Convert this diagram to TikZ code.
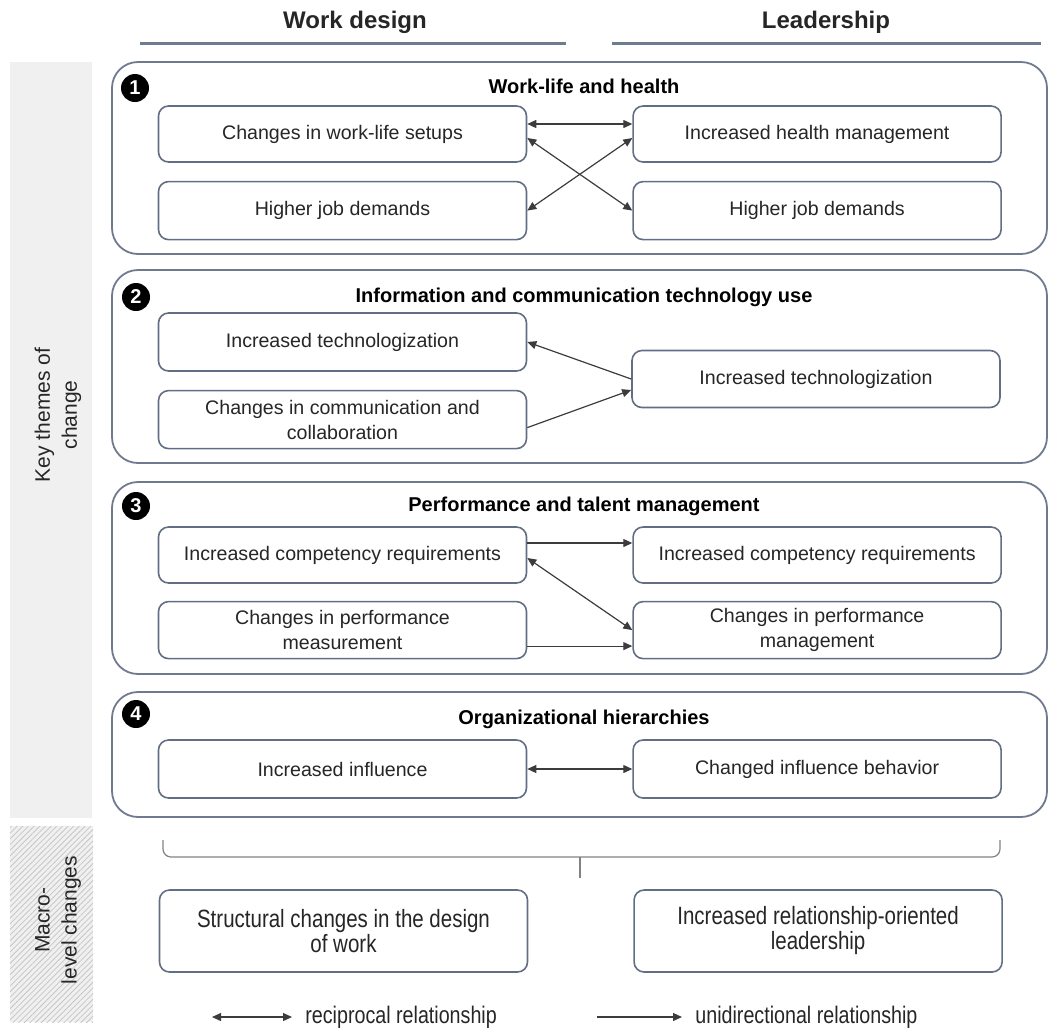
\documentclass[tikz,border=0pt]{standalone}
\usepackage{fontspec}
\setmainfont{Liberation Sans}
\newfontfamily\narrowsans[FakeStretch=0.82]{Liberation Sans}
\usetikzlibrary{positioning, arrows.meta, calc, patterns.meta}
\definecolor{boxline}{RGB}{98, 110, 132}
\definecolor{themeline}{RGB}{112, 122, 142}
\definecolor{headline}{RGB}{110, 124, 145}
\definecolor{linkgrey}{RGB}{60, 60, 60}
\definecolor{textgrey}{RGB}{38, 38, 38}
\definecolor{sidegrey}{RGB}{240, 240, 240}
\definecolor{bracegrey}{RGB}{130, 130, 130}

\begin{document}
\begin{tikzpicture}[x=0.5pt, y=-0.5pt,
    itembox/.style={draw=boxline, line width=0.8pt, rounded corners=5pt, fill=white, align=center,
      text=textgrey, font=\fontsize{9.8}{12.5}\selectfont, minimum width=184pt, inner sep=0pt},
    macrobox/.style={itembox, font=\narrowsans\fontsize{12.5}{12.5}\selectfont, minimum height=41pt},
    themebox/.style={draw=themeline, line width=0.9pt, rounded corners=13pt},
    themetitle/.style={font=\bfseries\fontsize{10}{12}\selectfont, text=black},
    badge/.style={circle, fill=black, text=white, font=\bfseries\fontsize{10}{10}\selectfont, inner sep=0pt, minimum size=14pt},
    colhead/.style={font=\bfseries\fontsize{12}{14}\selectfont, text=textgrey},
    sidelabel/.style={rotate=90, align=center, text=textgrey, font=\fontsize{10.5}{13.5}\selectfont},
    legendtext/.style={anchor=west, inner sep=0pt, text=textgrey, font=\narrowsans\fontsize{12}{14}\selectfont},
    link/.style={draw=linkgrey, line width=0.6pt},
    uni/.style={link, -{Triangle[length=4.5pt, width=4pt]}},
    both/.style={link, {Triangle[length=4.5pt, width=4pt]}-{Triangle[length=4.5pt, width=4pt]}}]
  \useasboundingbox (0,0) rectangle (1049,1030);

  % side bars
  \fill[sidegrey] (10,62) rectangle (92,818);
  \fill[sidegrey] (10,826) rectangle (93,1022);
  \fill[pattern={Lines[angle=45, distance=2pt, line width=0.4pt]}, pattern color=gray!45] (10,826) rectangle (93,1022);
  \node[sidelabel] (keythemes) at (58,415) {Key themes of\\change};
  \node[sidelabel] (macrolevel) at (58,920) {Macro-\\level changes};

  % column heads
  \node[colhead] (wdhead) at (355,22) {Work design};
  \node[colhead] (ldhead) at (826,22) {Leadership};
  \draw[headline, line width=1.5pt] (140,43) -- (566,43);
  \draw[headline, line width=1.5pt] (612,43) -- (1041,43);

  % theme frames
  \draw[themebox] (112,62) rectangle (1047,254);
  \draw[themebox] (112,270) rectangle (1047,463);
  \draw[themebox] (112,482) rectangle (1047,674);
  \draw[themebox] (112,692) rectangle (1047,817);

  \node[badge] (n1) at (135,88) {1};
  \node[badge] (n2) at (136,297) {2};
  \node[badge] (n3) at (136,506) {3};
  \node[badge] (n4) at (136,714) {4};

  \node[themetitle] (t1) at (584,86) {Work-life and health};
  \node[themetitle] (t2) at (584,297) {Information and communication technology use};
  \node[themetitle] (t3) at (584,506) {Performance and talent management};
  \node[themetitle] (t4) at (584,719) {Organizational hierarchies};

  % 1 work-life and health
  \node[itembox, minimum height=28pt] (wl1) at (342.5,134) {Changes in work-life setups};
  \node[itembox, minimum height=29pt, below=9pt of wl1] (wl2) {Higher job demands};
  \node[itembox, minimum height=28pt, right=52.5pt of wl1] (lw1) {Increased health management};
  \node[itembox, minimum height=29pt, right=52.5pt of wl2] (lw2) {Higher job demands};
  \draw[both] ([yshift=5pt]wl1.east) -- ([yshift=5pt]lw1.west);
  \draw[both] ([yshift=-2pt]wl1.east) -- (lw2.west);
  \draw[both] ([yshift=-2pt]lw1.west) -- (wl2.east);

  % 2 ict use
  \node[itembox, minimum height=29pt] (ict1) at (342.5,342) {Increased technologization};
  \node[itembox, minimum height=29pt, below=9pt of ict1] (ict2) {Changes in communication and\\collaboration};
  \node[itembox, minimum height=28.5pt] (lict) at (816,379) {Increased technologization};
  \draw[uni] (lict.west) -- (ict1.east);
  \draw[uni] ([yshift=-4pt]ict2.east) -- ([yshift=-5.5pt]lict.west);

  % 3 performance and talent
  \node[itembox, minimum height=28pt] (pt1) at (342.5,555) {Increased competency requirements};
  \node[itembox, minimum height=28.5pt, below=8.5pt of pt1] (pt2) {Changes in performance\\measurement};
  \node[itembox, minimum height=28pt, right=52.5pt of pt1] (lpt1) {Increased competency requirements};
  \node[itembox, minimum height=28.5pt, right=52.5pt of pt2] (lpt2) {Changes in performance\\management};
  \draw[uni] ([yshift=6pt]pt1.east) -- ([yshift=6pt]lpt1.west);
  \draw[both] ([yshift=-1.5pt]pt1.east) -- (lpt2.west);
  \draw[uni] ([yshift=-8pt]pt2.east) -- ([yshift=-8pt]lpt2.west);

  % 4 hierarchies
  \node[itembox, minimum height=29pt] (oh1) at (342.5,769) {Increased influence};
  \node[itembox, minimum height=29pt, right=52.5pt of oh1] (oh2) {Changed influence behavior};
  \draw[both] (oh1.east) -- (oh2.west);

  % brace
  \draw[bracegrey, line width=0.6pt, rounded corners=4pt] (163,840) -- (163,857) -- (1000,857) -- (1000,840);
  \draw[bracegrey, line width=0.6pt] (580,857) -- (580,878);

  % macro-level changes
  \node[macrobox] (mwork) at (343.5,931) {Structural changes in the design\\of work};
  \node[macrobox, right=52.5pt of mwork] (mlead) {Increased relationship-oriented\\leadership};

  % legend
  \coordinate (recipa) at (212,1017);
  \node[legendtext] (recip) at (305,1017) {reciprocal relationship};
  \draw[both, shorten >=6.5pt] (recipa) -- (recip.west);
  \coordinate (unia) at (597,1017);
  \node[legendtext] (unid) at (695,1017) {unidirectional relationship};
  \draw[uni, shorten >=6.5pt] (unia) -- (unid.west);
\end{tikzpicture}
\end{document}
